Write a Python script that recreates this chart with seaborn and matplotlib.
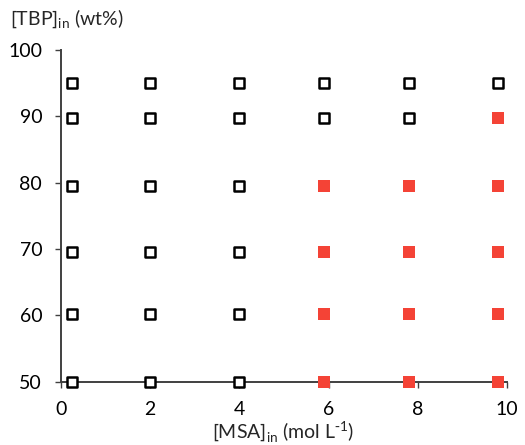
import matplotlib
matplotlib.use("Agg")
import matplotlib.pyplot as plt
import seaborn as sns
import pandas as pd

# Grid of feed compositions
msa_levels = [0.25, 2, 4, 5.9, 7.8, 9.8]          # [MSA]in, mol/L
tbp_levels = [50, 60.2, 69.5, 79.5, 89.7, 95]      # [TBP]in, wt%

# Composition pairs that gave a single phase (filled markers)
single_phase = {
    (5.9, 50), (5.9, 60.2), (5.9, 69.5), (5.9, 79.5),
    (7.8, 50), (7.8, 60.2), (7.8, 69.5), (7.8, 79.5),
    (9.8, 50), (9.8, 60.2), (9.8, 69.5), (9.8, 79.5), (9.8, 89.7),
}

rows = []
for x in msa_levels:
    for y in tbp_levels:
        rows.append({"msa": x, "tbp": y, "filled": (x, y) in single_phase})
df = pd.DataFrame(rows)

sns.set_theme(style="white")
plt.rcParams["font.family"] = ["Lato", "DejaVu Sans"]

fig = plt.figure(figsize=(5.25, 4.45), dpi=100)
ax = fig.add_axes([0.116, 0.142, 0.85, 0.746])

sns.scatterplot(data=df[~df.filled], x="msa", y="tbp", marker="s", s=50,
                facecolor="white", edgecolor="black", linewidth=1.8,
                ax=ax, clip_on=False, zorder=3)
sns.scatterplot(data=df[df.filled], x="msa", y="tbp", marker="s", s=74,
                color="#f44336", edgecolor="none", linewidth=0,
                ax=ax, clip_on=False, zorder=3)

ax.set_xlim(0, 10)
ax.set_ylim(50, 100)
ax.set_xticks([0, 2, 4, 6, 8, 10])
ax.set_yticks([50, 60, 70, 80, 90, 100])
ax.set_xlabel("")
ax.set_ylabel("")

for side in ("top", "right"):
    ax.spines[side].set_visible(False)
for side in ("left", "bottom"):
    ax.spines[side].set_color("#404040")
    ax.spines[side].set_linewidth(1.4)

ax.tick_params(axis="both", which="major", direction="out", length=4.5,
               width=1.0, color="#404040", labelsize=14, labelcolor="black",
               left=True, bottom=True)
ax.tick_params(axis="y", pad=9)
ax.tick_params(axis="x", pad=9)

fig.text(0.019, 0.945, r"[TBP]$_{\mathregular{in}}$ (wt%)", fontsize=14,
         ha="left", va="baseline")
fig.text(0.54, 0.014,
         r"[MSA]$_{\mathregular{in}}$ (mol L$^{\mathregular{\text{-}1}}$)",
         fontsize=14, ha="center", va="baseline")

fig.savefig("out.png", dpi=100)
